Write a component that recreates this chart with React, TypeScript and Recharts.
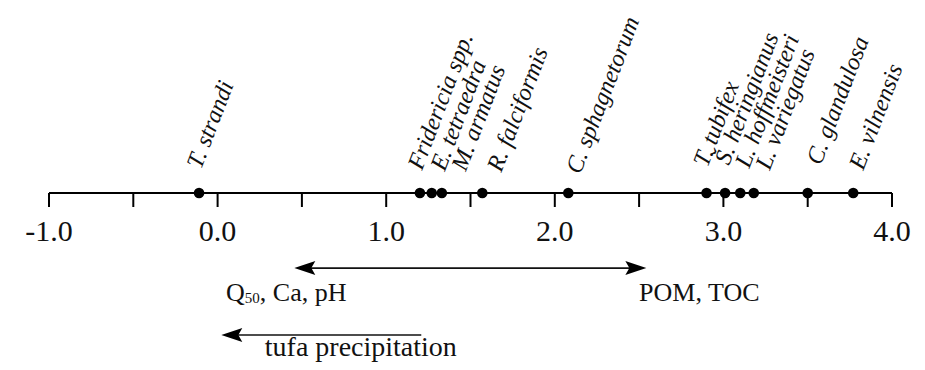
import { ScatterChart, Scatter, XAxis, YAxis, ReferenceLine, ReferenceDot } from 'recharts'

// ordination scores of the species along the gradient
const species = [
  'T. strandi',
  'Fridericia spp.',
  'E. tetraedra',
  'M. armatus',
  'R. falciformis',
  'C. sphagnetorum',
  'T. tubifex',
  'Š. heringianus',
  'L. hoffmeisteri',
  'L. variegatus',
  'C. glandulosa',
  'E. vilnensis',
]
const scores = [-0.11, 1.2, 1.27, 1.33, 1.57, 2.08, 2.9, 3.01, 3.1, 3.18, 3.5, 3.77]

const axisTicks = [-1, -0.5, 0, 0.5, 1, 1.5, 2, 2.5, 3, 3.5, 4]

// gradient arrows below the axis (axis units)
const arrowFrom = [0.455, 0.022]
const arrowTo = [2.543, 1.208]
const arrowLevel = [-0.417, -0.789]
const arrowBoth = [true, false]

const noteText = ['Q50, Ca, pH', 'POM, TOC', 'tufa precipitation']
const noteX = [0.05, 2.5, 0.28]
const noteLevel = [-0.6, -0.6, -0.905]

// label nudges in px so neighbouring names don't collide
const labelShift = [2, 2, 13, 24, 19, 12, 1, 4, 9, 16, 13, 10]
const labelLift = [23, 22, 21, 21, 20, 18, 25, 27, 24, 22, 27, 22]

const data = species.map((name, i) => ({ name, score: scores[i], y: 0, idx: i }))

const serif = '"Liberation Serif", "Times New Roman", Times, serif'

const SpeciesMark = (props: any) => {
  const { cx, cy, payload } = props
  const ax = cx + labelShift[payload.idx]
  const ay = cy - labelLift[payload.idx]
  return (
    <g>
      <circle cx={cx} cy={cy} r={5.3} fill="#000" />
      <text
        x={ax}
        y={ay}
        transform={`rotate(-69 ${ax} ${ay})`}
        fontFamily={serif}
        fontStyle="italic"
        fontSize={24}
        fill="#111"
      >
        {payload.name}
      </text>
    </g>
  )
}

const arrowShape = (both: boolean) => (props: any) => {
  const { x1, y1, x2, y2 } = props
  const L = 21
  const W = 7
  const left = Math.min(x1, x2)
  const right = Math.max(x1, x2)
  return (
    <g>
      <line x1={left + 10} y1={y1} x2={both ? right - 10 : right} y2={y2} stroke="#111" strokeWidth={1.7} />
      <polygon points={`${left},${y1} ${left + L},${y1 - W} ${left + L - 4},${y1} ${left + L},${y1 + W}`} fill="#000" />
      {both && (
        <polygon
          points={`${right},${y2} ${right - L},${y2 - W} ${right - L + 4},${y2} ${right - L},${y2 + W}`}
          fill="#000"
        />
      )}
    </g>
  )
}

const noteShape = (i: number) => (props: any) => {
  const { cx, cy } = props
  const text = noteText[i]
  if (text.startsWith('Q50')) {
    return (
      <text x={cx} y={cy} fontFamily={serif} fontSize={26} fill="#111">
        Q
        <tspan fontSize={15} dy={2}>
          50
        </tspan>
        <tspan dy={-2}>{text.slice(3)}</tspan>
      </text>
    )
  }
  return (
    <text x={cx} y={cy} fontFamily={serif} fontSize={i === 2 ? 28 : 26} fill="#111">
      {text}
    </text>
  )
}

export default function App() {
  return (
    <div style={{ position: 'absolute', left: 0, top: 0, background: '#fff' }}>
      <ScatterChart width={925} height={370} margin={{ top: 13, right: 33, bottom: 117, left: 49 }}>
        <XAxis
          type="number"
          dataKey="score"
          domain={[-1, 4]}
          ticks={axisTicks}
          interval={0}
          height={60}
          tickFormatter={(v: number) => (Number.isInteger(v) ? v.toFixed(1) : '')}
          tick={{ fontSize: 30, fontFamily: serif, fill: '#111' }}
          axisLine={{ stroke: '#000', strokeWidth: 2 }}
          tickLine={{ stroke: '#000', strokeWidth: 2 }}
          tickSize={14}
          tickMargin={13}
        />
        <YAxis type="number" dataKey="y" domain={[0, 1]} hide />
        {arrowFrom.map((x, i) => (
          <ReferenceLine
            key={`arrow-${i}`}
            segment={[
              { x, y: arrowLevel[i] },
              { x: arrowTo[i], y: arrowLevel[i] },
            ]}
            ifOverflow="visible"
            shape={arrowShape(arrowBoth[i])}
          />
        ))}
        {noteX.map((x, i) => (
          <ReferenceDot key={`note-${i}`} x={x} y={noteLevel[i]} r={0} ifOverflow="visible" shape={noteShape(i)} />
        ))}
        <Scatter data={data} shape={SpeciesMark} isAnimationActive={false} />
      </ScatterChart>
    </div>
  )
}
